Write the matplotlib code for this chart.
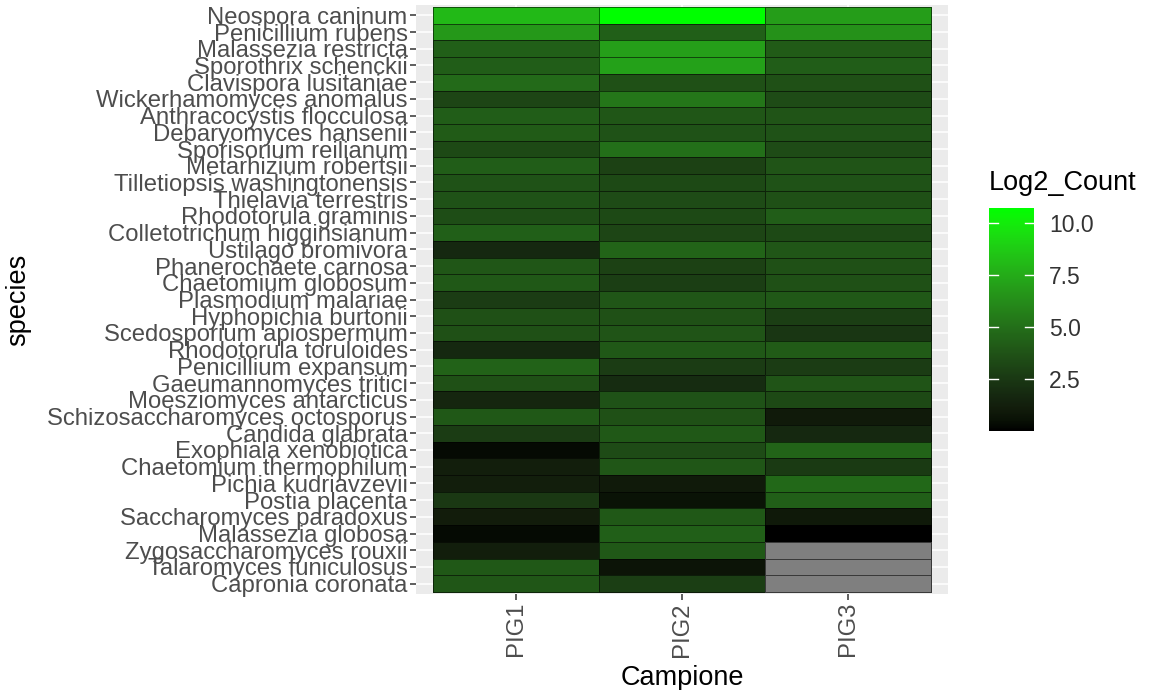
import numpy as np
import matplotlib
matplotlib.use("Agg")
import matplotlib.pyplot as plt
from matplotlib.colors import ListedColormap, Normalize

plt.rcParams['font.family'] = ['Liberation Sans', 'DejaVu Sans']

species = [
    "Neospora caninum", "Penicillium rubens", "Malassezia restricta",
    "Sporothrix schenckii", "Clavispora lusitaniae", "Wickerhamomyces anomalus",
    "Anthracocystis flocculosa", "Debaryomyces hansenii", "Sporisorium reilianum",
    "Metarhizium robertsii", "Tilletiopsis washingtonensis", "Thielavia terrestris",
    "Rhodotorula graminis", "Colletotrichum higginsianum", "Ustilago bromivora",
    "Phanerochaete carnosa", "Chaetomium globosum", "Plasmodium malariae",
    "Hyphopichia burtonii", "Scedosporium apiospermum", "Rhodotorula toruloides",
    "Penicillium expansum", "Gaeumannomyces tritici", "Moesziomyces antarcticus",
    "Schizosaccharomyces octosporus", "Candida glabrata", "Exophiala xenobiotica",
    "Chaetomium thermophilum", "Pichia kudriavzevii", "Postia placenta",
    "Saccharomyces paradoxus", "Malassezia globosa", "Zygosaccharomyces rouxii",
    "Talaromyces funiculosus", "Capronia coronata",
]
samples = ["PIG1", "PIG2", "PIG3"]

# log2 counts per sample, same order as species (nan = not detected)
pig1 = [8.0, 6.7, 4.3, 4.2, 4.8, 3.1, 4.2, 4.1, 3.3, 4.2, 3.7, 3.7, 3.5, 4.3, 1.7,
        3.9, 4.0, 2.7, 3.6, 3.6, 1.7, 4.4, 3.6, 1.6, 4.0, 2.7, 0.3, 1.2, 1.2, 2.5,
        1.1, 0.3, 1.2, 4.0, 3.9]
pig2 = [10.7, 4.3, 7.0, 7.1, 3.6, 5.3, 3.9, 3.7, 5.0, 2.9, 3.3, 3.4, 3.3, 3.1, 4.5,
        2.9, 2.8, 3.9, 3.6, 3.8, 4.0, 2.7, 1.9, 3.7, 3.6, 4.0, 3.4, 3.9, 1.0, 0.6,
        4.0, 4.3, 4.0, 0.7, 2.8]
pig3 = [6.9, 6.4, 4.1, 4.2, 3.6, 3.4, 3.8, 3.7, 3.4, 3.8, 3.7, 3.6, 4.2, 3.3, 3.9,
        3.6, 3.6, 4.0, 2.8, 2.4, 4.1, 2.7, 3.8, 3.3, 1.0, 1.7, 4.5, 2.6, 4.7, 4.3,
        0.9, 0.0, np.nan, np.nan, np.nan]


def lab_to_srgb(L, a, b):
    # CIE Lab (D65) -> sRGB in [0, 1]
    fy = (L + 16) / 116
    fx = fy + a / 500
    fz = fy - b / 200
    def finv(f):
        return np.where(f > 6 / 29, f ** 3, 3 * (6 / 29) ** 2 * (f - 4 / 29))
    X = 0.95047 * finv(fx)
    Y = 1.0 * finv(fy)
    Z = 1.08883 * finv(fz)
    r = 3.2406 * X - 1.5372 * Y - 0.4986 * Z
    g = -0.9689 * X + 1.8758 * Y + 0.0415 * Z
    bb = 0.0557 * X - 0.2040 * Y + 1.0570 * Z
    rgb = np.stack([r, g, bb], axis=-1)
    rgb = np.clip(rgb, 0, 1)
    return np.where(rgb <= 0.0031308, 12.92 * rgb,
                    1.055 * rgb ** (1 / 2.4) - 0.055).clip(0, 1)


# black -> green ramp interpolated in Lab space
t = np.linspace(0, 1, 256)
green_lab = np.array([87.737, -86.185, 83.181])
ramp = lab_to_srgb(t * green_lab[0], t * green_lab[1], t * green_lab[2])
cmap = ListedColormap(ramp)
cmap.set_bad("#7F7F7F")

values = np.ma.masked_invalid(np.array([pig1, pig2, pig3]).T)
norm = Normalize(vmin=values.min(), vmax=values.max())

fig = plt.figure(figsize=(11.61, 6.9), dpi=100)
ax = fig.add_axes([416 / 1161, 1 - 593.7 / 690, 532 / 1161, 588.4 / 690])
ax.set_facecolor("#EBEBEB")

n = len(species)
xe = np.arange(len(samples) + 1) + 0.5
ye = np.arange(n + 1) + 0.5
mesh = ax.pcolormesh(xe, ye, values, cmap=cmap, norm=norm,
                     edgecolors=(0, 0, 0, 0.55), linewidth=0.6)

ax.set_xlim(0.4, len(samples) + 0.6)
ax.set_ylim(n + 0.6, 0.4)
ax.set_xticks(np.arange(1, len(samples) + 1))
ax.set_xticklabels(samples, rotation=90)
ax.set_yticks(np.arange(1, n + 1))
ax.set_yticklabels(species)
ax.set_axisbelow(True)
ax.grid(True, color="white", linewidth=1.1)
for s in ax.spines.values():
    s.set_visible(False)
ax.tick_params(axis="both", colors="#333333", length=4, width=1.1,
               labelsize=17.2, labelcolor="#4D4D4D", pad=2)
ax.set_xlabel("Campione", fontsize=19.5, color="black", labelpad=6)
ax.set_ylabel("species", fontsize=19.5, color="black")
ax.yaxis.set_label_coords(-0.724, 0.5)

# colour bar legend
cax = fig.add_axes([989 / 1161, 1 - 431 / 690, 45 / 1161, 223 / 690])
cb = fig.colorbar(mesh, cax=cax)
cb.outline.set_visible(False)
ticks = [2.5, 5.0, 7.5, 10.0]
cb.set_ticks(ticks)
cb.set_ticklabels(["2.5", "5.0", "7.5", "10.0"])
cax.tick_params(length=0, labelsize=16.5, labelcolor="#333333", pad=11)
for v in ticks:
    cax.plot([0, 0.2], [v, v], color="white", lw=1, transform=cax.get_yaxis_transform())
    cax.plot([0.8, 1], [v, v], color="white", lw=1, transform=cax.get_yaxis_transform())
fig.text(989 / 1161, 1 - 183 / 690, "Log2_Count", fontsize=19.5, va="center", ha="left")

fig.savefig("out.png", dpi=100)
